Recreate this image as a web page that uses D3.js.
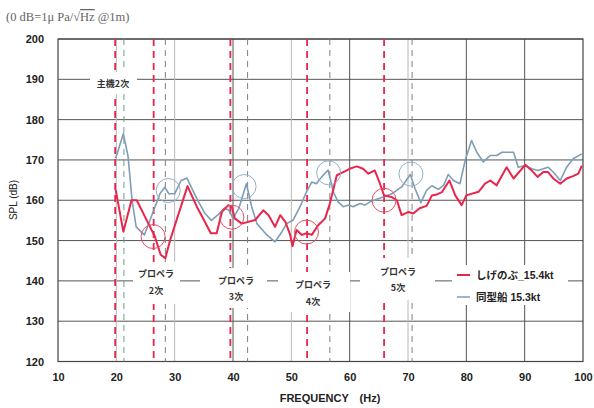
<!DOCTYPE html>
<html>
<head>
<meta charset="utf-8">
<script src="https://cdn.jsdelivr.net/npm/d3@7"></script>
<style>
  body { margin: 0; background: #fff; }
  text { font-family: "Liberation Sans", "Noto Sans CJK JP", sans-serif; }
  .jp { font-family: "Noto Sans CJK JP", sans-serif; }
</style>
</head>
<body>
<div class="chart"></div>
<script>
/* series: しげのぶ 15.4kt (red) */
const redFreq = [19.9, 21.2, 22.6, 23.5, 25.5, 26.6, 27.6, 28.4, 29.2, 30.6, 32.2, 33.8, 35.2, 36.2, 37.2, 38.1, 39.2, 39.8, 40.3, 41.5, 43.8, 45.2, 46.1, 47.2, 48.1, 49.0, 49.8, 50.2, 50.9, 51.8, 52.6, 53.5, 54.6, 55.8, 56.6, 57.8, 58.9, 60.0, 61.2, 62.3, 63.2, 64.3, 65.2, 65.9, 67.2, 68.1, 68.9, 70.1, 70.9, 72.0, 73.2, 74.1, 74.9, 75.8, 77.1, 78.1, 79.2, 80.0, 82.1, 83.2, 84.1, 85.2, 86.9, 88.1, 90.1, 91.2, 92.2, 93.2, 94.0, 94.9, 96.1, 97.2, 98.3, 99.2, 99.8];
const redSPL = [162.5, 152.2, 160, 160, 154.2, 151, 146.5, 145.6, 150, 156.3, 163.5, 158.4, 154.6, 151.8, 151.8, 157.1, 158.8, 158.4, 155.5, 154.2, 155.1, 157.5, 156.3, 153.4, 156.3, 154.6, 151.4, 148.6, 152.6, 151.4, 151.8, 151.4, 153.8, 155.5, 159.2, 166.2, 167, 167.8, 168.4, 167.8, 166.6, 167.4, 164.1, 161.2, 160.8, 160, 156.3, 157.1, 156.7, 158, 158.6, 161.2, 161.4, 162, 164.9, 161.2, 158.8, 161.2, 162.1, 164.1, 164.9, 163.7, 168.2, 165.4, 168.8, 167.4, 165.8, 167, 167, 165.4, 164.1, 165.4, 166, 166.6, 168.6];

/* series: 同型船 15.3kt (blue gray) */
const blueFreq = [19.9, 21.2, 22.0, 22.7, 23.4, 24.8, 26.3, 27.5, 28.3, 29.0, 30.0, 31.1, 32.1, 33.8, 35.2, 36.3, 37.5, 38.6, 39.3, 40.0, 41.0, 42.3, 43.2, 44.1, 45.8, 47.2, 48.4, 49.2, 50.3, 51.5, 52.6, 53.5, 54.3, 55.2, 56.3, 57.2, 58.0, 58.9, 59.8, 60.6, 61.8, 62.6, 63.5, 64.9, 67.2, 68.9, 70.4, 71.2, 72.2, 73.2, 74.1, 75.2, 76.1, 76.9, 77.8, 78.9, 79.8, 80.9, 81.8, 82.9, 84.1, 85.2, 86.1, 87.2, 88.1, 88.9, 90.1, 91.2, 92.3, 93.2, 94.0, 94.9, 96.1, 97.2, 98.3, 99.8];
const blueSPL = [170.4, 176.5, 171, 160, 153.4, 151.4, 157.1, 161.7, 163.2, 161.6, 161.6, 164.9, 165.5, 160.4, 156.7, 155, 156.5, 158, 157.5, 155.5, 158, 164.1, 158.4, 154.2, 151.4, 149.7, 152.2, 154.2, 155.1, 158.4, 162.1, 164.5, 164.1, 165.8, 167.5, 162.1, 159.6, 158.4, 158.8, 158.4, 159.2, 158.8, 159.6, 160.4, 161.6, 163.3, 166.4, 162.9, 159.4, 162.5, 163.6, 162.7, 163.7, 166.4, 164.9, 164.1, 169.9, 174.8, 171.9, 169.5, 171.1, 171.1, 171.9, 171.9, 171.9, 168.2, 168.6, 167.8, 167.4, 167.8, 168.2, 167, 164.9, 168.2, 170.3, 171.5];

/* harmonic frequencies (dashed verticals) */
const redHarmonics = [19.8, 26.4, 39.55, 52.7, 65.9];
const grayHarmonics = [21.3, 28.4, 42.5, 56.6, 70.7];

/* highlighted peaks (circles) */
const redCircleFreq = [26.3, 39.8, 52.6, 65.9];
const redCircleSPL = [151, 155.8, 152.1, 160];
const blueCircleFreq = [28.9, 41.9, 56.4, 70.5];
const blueCircleSPL = [162.4, 163.4, 166.8, 166.5];

/* ticks */
const xTicks = [10, 20, 30, 40, 50, 60, 70, 80, 90, 100];
const yTicks = [120, 130, 140, 150, 160, 170, 180, 190, 200];
const darkVerticals = [40, 60, 80, 90];
const lightVerticals = [20, 30, 50, 70];

const redColor = "#e8264b";
const blueColor = "#7f9db6";

/* dimensions */
const margin = {top: 39, right: 11, bottom: 46.5, left: 58};
const width = 594 - margin.left - margin.right;
const height = 408 - margin.top - margin.bottom;

const svg = d3.select(".chart").append("svg")
  .attr("width", 594)
  .attr("height", 408);

const chart = svg.append("g")
  .attr("transform", `translate(${margin.left},${margin.top})`);

const xScale = d3.scaleLinear().domain([10, 100]).range([0, width]);
const yScale = d3.scaleLinear().domain([120, 200]).range([height, 0]);

/* horizontal grid */
chart.append("g").selectAll("line")
  .data(yTicks)
  .enter().append("line")
  .attr("x1", 0).attr("x2", width)
  .attr("y1", d => yScale(d)).attr("y2", d => yScale(d))
  .style("stroke", "#555").style("stroke-width", 1);

/* vertical grid */
chart.append("g").selectAll("line")
  .data(lightVerticals)
  .enter().append("line")
  .attr("x1", d => xScale(d)).attr("x2", d => xScale(d))
  .attr("y1", 0).attr("y2", height)
  .style("stroke", "#b8b8b8").style("stroke-width", 1);

chart.append("g").selectAll("line")
  .data(darkVerticals)
  .enter().append("line")
  .attr("x1", d => xScale(d)).attr("x2", d => xScale(d))
  .attr("y1", 0).attr("y2", height)
  .style("stroke", "#555").style("stroke-width", 1);

/* frame */
chart.append("rect")
  .attr("width", width).attr("height", height)
  .style("fill", "none").style("stroke", "#444").style("stroke-width", 1.2);

/* harmonic dashed lines */
chart.append("g").selectAll("line")
  .data(grayHarmonics)
  .enter().append("line")
  .attr("x1", d => xScale(d)).attr("x2", d => xScale(d))
  .attr("y1", 0).attr("y2", height)
  .style("stroke", (d, i) => i === 0 ? "#6f9a84" : "#808080")
  .style("stroke-width", 1)
  .style("stroke-dasharray", "6,5");

chart.append("g").selectAll("line")
  .data(redHarmonics)
  .enter().append("line")
  .attr("x1", d => xScale(d)).attr("x2", d => xScale(d))
  .attr("y1", 0).attr("y2", height)
  .style("stroke", redColor)
  .style("stroke-width", 1.8)
  .style("stroke-dasharray", "7,5");

/* series lines */
const line = d3.line()
  .x(d => xScale(d[0]))
  .y(d => yScale(d[1]));

chart.append("path")
  .datum(d3.zip(blueFreq, blueSPL))
  .attr("d", line)
  .style("fill", "none").style("stroke", blueColor).style("stroke-width", 1.6)
  .style("stroke-linejoin", "round");

chart.append("path")
  .datum(d3.zip(redFreq, redSPL))
  .attr("d", line)
  .style("fill", "none").style("stroke", redColor).style("stroke-width", 2)
  .style("stroke-linejoin", "round");

/* circles */
chart.append("g").selectAll("circle")
  .data(d3.zip(redCircleFreq, redCircleSPL))
  .enter().append("circle")
  .attr("cx", d => xScale(d[0])).attr("cy", d => yScale(d[1]))
  .attr("r", 12)
  .style("fill", "none").style("stroke", "#e0506a").style("stroke-width", 1);

chart.append("g").selectAll("circle")
  .data(d3.zip(blueCircleFreq, blueCircleSPL))
  .enter().append("circle")
  .attr("cx", d => xScale(d[0])).attr("cy", d => yScale(d[1]))
  .attr("r", 12)
  .style("fill", "none").style("stroke", "#93b0c8").style("stroke-width", 1);

/* annotation labels with white boxes */
const notes = [
  {lines: ["主機2次"], box: [90, 72, 47, 22], x: 113, y: [87]},
  {lines: ["プロペラ", "2次"], box: [133, 262, 47, 42], x: 156, y: [277, 294]},
  {lines: ["プロペラ", "3次"], box: [200, 268, 67, 40], x: 236, y: [284, 300]},
  {lines: ["プロペラ", "4次"], box: [278, 272, 72, 40], x: 313, y: [288, 305]},
  {lines: ["プロペラ", "5次"], box: [360, 258, 75, 42], x: 398, y: [275, 291]}
];

notes.forEach(n => {
  svg.append("rect")
    .attr("x", n.box[0]).attr("y", n.box[1])
    .attr("width", n.box[2]).attr("height", n.box[3])
    .style("fill", "#fff");
  n.lines.forEach((t, i) => {
    svg.append("text")
      .attr("class", "jp")
      .attr("x", n.x).attr("y", n.y[i])
      .attr("text-anchor", "middle")
      .style("font-size", "9px")
      .style("font-weight", "bold")
      .style("fill", "#333")
      .text(t);
  });
});

/* legend */
const legendItems = ["しげのぶ_15.4kt", "同型船  15.3kt"];
const legendColors = [redColor, blueColor];
const legend = svg.append("g").attr("transform", "translate(452,265)");
legend.append("rect").attr("width", 116).attr("height", 40).style("fill", "#fff");
legend.selectAll("line")
  .data(legendItems)
  .enter().append("line")
  .attr("x1", 5).attr("x2", 18)
  .attr("y1", (_, i) => 10 + i * 22).attr("y2", (_, i) => 10 + i * 22)
  .style("stroke", (_, i) => legendColors[i])
  .style("stroke-width", (_, i) => i === 0 ? 2 : 1.5);
legend.selectAll("text")
  .data(legendItems)
  .enter().append("text")
  .attr("x", 24)
  .attr("y", (_, i) => 14 + i * 22)
  .style("font-size", "10.5px")
  .style("font-weight", "bold")
  .style("fill", "#222")
  .text(d => d);

/* axes */
const xAxis = d3.axisBottom(xScale).tickValues(xTicks).tickSize(0).tickPadding(12);
const yAxis = d3.axisLeft(yScale).tickValues(yTicks).tickSize(0).tickPadding(14);

const gx = chart.append("g")
  .attr("transform", `translate(0,${height})`)
  .call(xAxis);
const gy = chart.append("g").call(yAxis);
[gx, gy].forEach(g => {
  g.select(".domain").remove();
  g.selectAll("text")
    .style("font-family", "Liberation Sans, sans-serif")
    .style("font-size", "11px")
    .style("font-weight", "bold")
    .style("fill", "#222");
});

/* axis titles */
svg.append("text")
  .attr("x", 330).attr("y", 402)
  .attr("text-anchor", "middle")
  .style("font-size", "11px").style("font-weight", "bold").style("fill", "#222")
  .text("FREQUENCY　(Hz)");

svg.append("text")
  .attr("transform", "translate(17,200) rotate(-90)")
  .attr("text-anchor", "middle")
  .style("font-size", "10px").style("fill", "#222")
  .text("SPL (dB)");

/* reference level note */
const note = svg.append("text")
  .attr("x", 6).attr("y", 21)
  .style("font-family", "Liberation Serif, serif")
  .style("font-size", "12.5px")
  .style("fill", "#666");
note.append("tspan").text("(0 dB=1μ Pa/√");
note.append("tspan").style("text-decoration", "overline").text("Hz");
note.append("tspan").text(" @1m)");
</script>
</body>
</html>
